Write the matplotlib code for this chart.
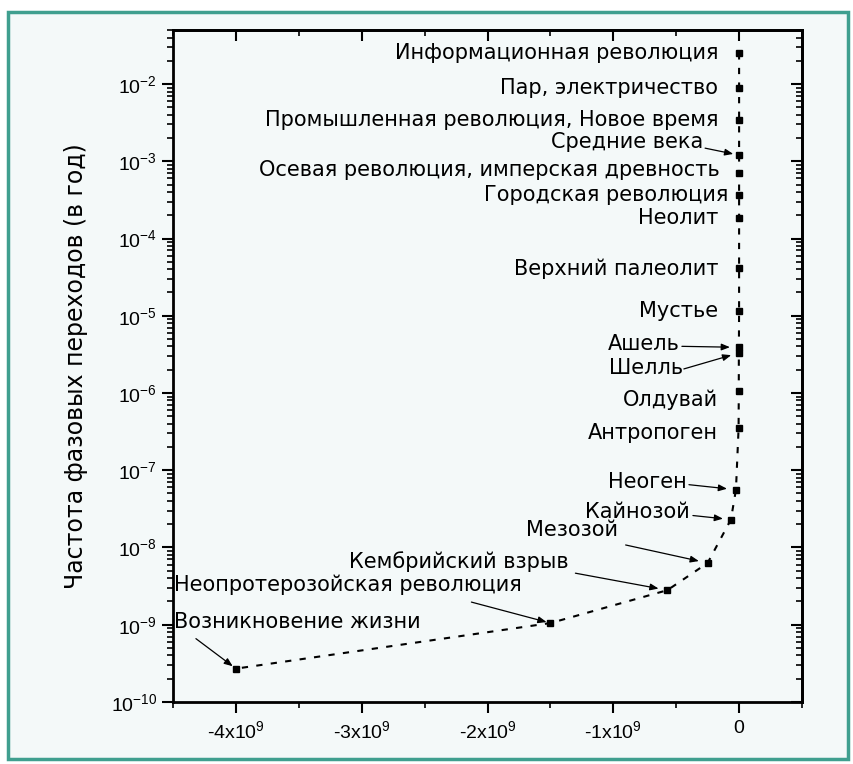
import numpy as np
import matplotlib
matplotlib.use('Agg')
import matplotlib.pyplot as plt
from matplotlib.patches import Rectangle
from matplotlib.ticker import FixedLocator, LogLocator, NullFormatter

plt.rcParams['font.family'] = ['Liberation Sans', 'DejaVu Sans']
plt.rcParams['mathtext.fontset'] = 'custom'
plt.rcParams['mathtext.rm'] = 'Liberation Sans'
plt.rcParams['mathtext.it'] = 'Liberation Sans:italic'

# phase transitions: label, time (years, negative = ago), frequency (1/yr)
labels = ['Информационная революция', 'Пар, электричество',
          'Промышленная революция, Новое время', 'Средние века',
          'Осевая революция, имперская древность', 'Городская революция',
          'Неолит', 'Верхний палеолит', 'Мустье', 'Ашель', 'Шелль',
          'Олдувай', 'Антропоген', 'Неоген', 'Кайнозой', 'Мезозой',
          'Кембрийский взрыв', 'Неопротерозойская революция',
          'Возникновение жизни']
years = [-50, -200, -500, -1500, -2500, -5000, -1.0e4, -4.0e4, -1.5e5,
         -1.5e6, -1.9e6, -2.5e6, -4.0e6, -2.5e7, -6.5e7, -2.5e8,
         -5.7e8, -1.5e9, -4.0e9]
freq = [2.5e-2, 9.0e-3, 3.4e-3, 1.2e-3, 7.1e-4, 3.7e-4, 1.86e-4, 4.1e-5,
        1.14e-5, 3.9e-6, 3.3e-6, 1.05e-6, 3.5e-7, 5.6e-8, 2.3e-8, 6.3e-9,
        2.8e-9, 1.05e-9, 2.7e-10]

xticks = [-4e9, -3e9, -2e9, -1e9, 0]
xticklabels = ['-4x10$^{9}$', '-3x10$^{9}$', '-2x10$^{9}$', '-1x10$^{9}$', '0']
yticks = [1e-10, 1e-9, 1e-8, 1e-7, 1e-6, 1e-5, 1e-4, 1e-3, 1e-2]
yticklabels = ['10$^{-%d}$' % k for k in range(10, 1, -1)]

# text offset (px) from point, alignment, arrow start offset (px) or None, arrow shrink (px)
lab_pos = {
    'Информационная революция': (-21, 0, 'right', None, 0),
    'Пар, электричество': (-21, 0, 'right', None, 0),
    'Промышленная революция, Новое время': (-21, 0, 'right', None, 0),
    'Средние века': (-36, 13, 'right', (-34, 7), 6),
    'Осевая революция, имперская древность': (-19, 3, 'right', None, 0),
    'Городская революция': (-11, 0, 'right', None, 0),
    'Неолит': (-21, 0, 'right', None, 0),
    'Верхний палеолит': (-21, 0, 'right', None, 0),
    'Мустье': (-21, 0, 'right', None, 0),
    'Ашель': (-59, 3, 'right', (-57, 1), 9),
    'Шелль': (-56, -15, 'right', (-55, -16), 8),
    'Олдувай': (-21, -8, 'right', None, 0),
    'Антропоген': (-21, -5, 'right', None, 0),
    'Неоген': (-49, 8, 'right', (-47, 5), 9),
    'Кайнозой': (-41, 8, 'right', (-38, 4), 8),
    'Мезозой': (-90, 33, 'right', (-82, 18), 9),
    'Кембрийский взрыв': (-99, 29, 'right', (-92, 17), 9),
    'Неопротерозойская революция': (-29, 38, 'right', (-79, 21), 4),
    'Возникновение жизни': (-62, 47, 'left', (-40, 30), 4),
}

fig = plt.figure(figsize=(8.54, 7.64), dpi=100, facecolor='white')
fig.patches.append(Rectangle((0.009, 0.007), 0.984, 0.977, transform=fig.transFigure,
                             facecolor='#f4f9f9', edgecolor='#3f9f8f', linewidth=2.5,
                             zorder=-10))
ax = fig.add_axes([0.2026, 0.0812, 0.7365, 0.8795])
ax.set_facecolor('none')

ax.plot(years, freq, color='black', linestyle=(0, (3, 4)), linewidth=1.5,
        marker='s', markersize=5, markerfacecolor='black', markeredgecolor='black')

ax.set_yscale('log')
ax.set_xlim(-4.5e9, 0.5e9)
ax.set_ylim(1e-10, 5e-2)

ax.xaxis.set_major_locator(FixedLocator(xticks))
ax.set_xticklabels(xticklabels)
ax.xaxis.set_minor_locator(FixedLocator(np.arange(-4.5e9, 0.6e9, 0.5e9)))
ax.yaxis.set_major_locator(FixedLocator(yticks))
ax.set_yticklabels(yticklabels)
ax.yaxis.set_minor_locator(LogLocator(base=10, subs=np.arange(2, 10), numticks=20))
ax.yaxis.set_minor_formatter(NullFormatter())

ax.tick_params(which='both', direction='out', top=False, right=False, labelsize=14, width=1.5)
ax.tick_params(which='major', length=8)
ax.tick_params(which='minor', length=4, width=1.2)
ax.tick_params(axis='x', pad=5)
for s in ax.spines.values():
    s.set_linewidth(2)

sx = ax.secondary_xaxis('top')
sx.xaxis.set_major_locator(FixedLocator(xticks))
sx.xaxis.set_minor_locator(FixedLocator(np.arange(-4.5e9, 0.6e9, 0.5e9)))
sx.tick_params(which='both', direction='in', labeltop=False, width=1.5)
sx.tick_params(which='major', length=8)
sx.tick_params(which='minor', length=4, width=1.2)
sx.spines['top'].set_linewidth(2)

sy = ax.secondary_yaxis('right')
sy.yaxis.set_major_locator(FixedLocator(yticks))
sy.yaxis.set_minor_locator(LogLocator(base=10, subs=np.arange(2, 10), numticks=20))
sy.yaxis.set_minor_formatter(NullFormatter())
sy.tick_params(which='both', direction='in', labelright=False, width=1.5)
sy.tick_params(which='major', length=8)
sy.tick_params(which='minor', length=4, width=1.2)
sy.spines['right'].set_linewidth(2)

ax.set_ylabel('Частота фазовых переходов (в год)', fontsize=17,
              family='DejaVu Sans', labelpad=16)

for name, x, y in zip(labels, years, freq):
    dx, dy, ha, arr, shrink = lab_pos[name]
    ax.annotate(name, xy=(x, y), xytext=(dx, dy), textcoords='offset pixels',
                ha=ha, va='center', fontsize=15, family='DejaVu Sans')
    if arr is not None:
        ax.annotate('', xy=(x, y), xytext=arr, textcoords='offset pixels',
                    arrowprops=dict(arrowstyle='-|>,head_length=0.5,head_width=0.2',
                                    color='black', lw=0.9, shrinkA=0,
                                    shrinkB=shrink * 0.72))

fig.savefig('out.png', dpi=100, facecolor='white')
